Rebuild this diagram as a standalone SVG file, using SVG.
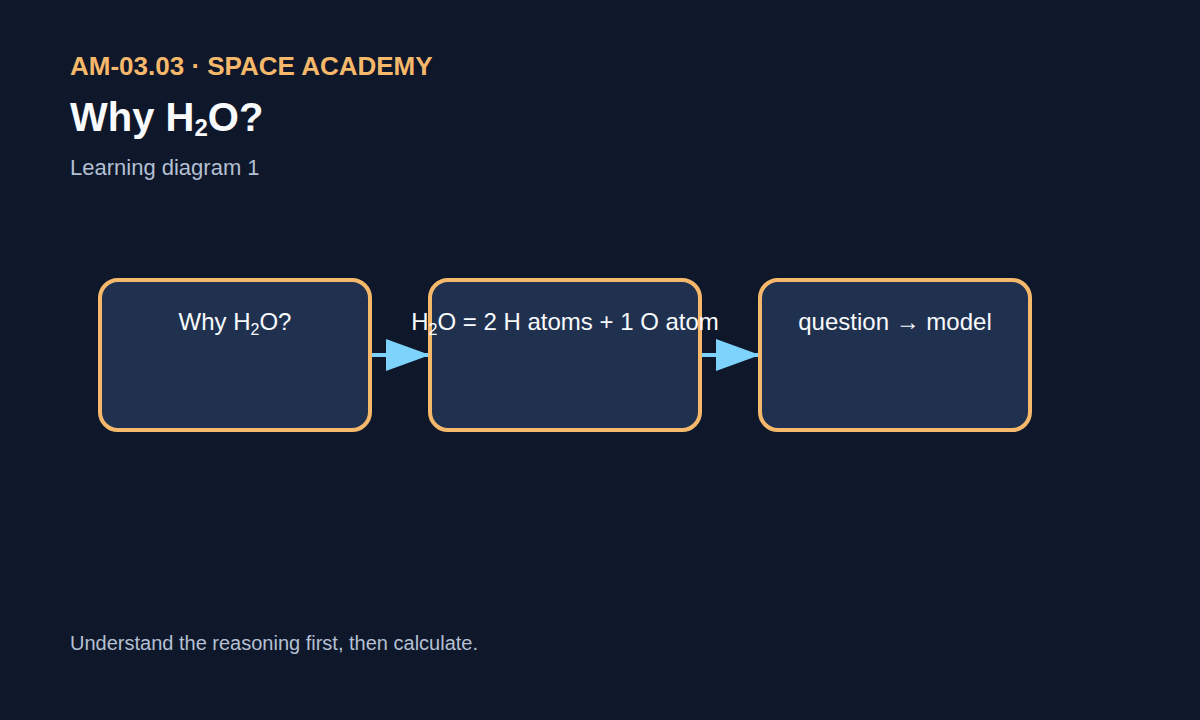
<svg xmlns="http://www.w3.org/2000/svg" width="1200" height="720" viewBox="0 0 1200 720">
<defs>
<style>
.kicker{font-family:"Liberation Sans",Arial,sans-serif;font-weight:700;font-size:26px;fill:#f6b96b}
.title{font-family:"Liberation Sans",Arial,sans-serif;font-weight:700;font-size:40px;fill:#f8fafc}
.sub{font-family:"Liberation Sans",Arial,sans-serif;font-size:22px;fill:#b4c0d3}
.foot{font-family:"Liberation Sans",Arial,sans-serif;font-size:20px;fill:#b4c0d3}
.box{fill:#203150;stroke:#f6b96b;stroke-width:4}
.lbl{font-family:"Liberation Sans",Arial,sans-serif;font-size:24px;fill:#f8fafc;text-anchor:middle}
.edge{stroke:#7dd3fc;stroke-width:4;fill:none}
</style>
<marker id="arr" viewBox="0 0 44 32" refX="44" refY="16" markerWidth="44" markerHeight="32" markerUnits="userSpaceOnUse" orient="auto">
<path d="M0,0 L44,16 L0,32 Z" fill="#7dd3fc"/>
</marker>
</defs>
<rect width="1200" height="720" fill="#0f172a"/>
<text class="kicker" x="70" y="75">AM-03.03 · SPACE ACADEMY</text>
<text class="title" x="70" y="131">Why H<tspan font-size="24" dy="5">2</tspan><tspan dy="-5">O?</tspan></text>
<text class="sub" x="70" y="175">Learning diagram 1</text>
<g id="connectors">
<line class="edge" x1="370" y1="355" x2="430" y2="355" marker-end="url(#arr)"/>
<line class="edge" x1="700" y1="355" x2="760" y2="355" marker-end="url(#arr)"/>
</g>
<g id="n1">
<rect class="box" x="100" y="280" width="270" height="150" rx="18"/>
<text class="lbl" x="235" y="330">Why H<tspan font-size="16" dy="5">2</tspan><tspan dy="-5">O?</tspan></text>
</g>
<g id="n2">
<rect class="box" x="430" y="280" width="270" height="150" rx="18"/>
<text class="lbl" x="565" y="330">H<tspan font-size="16" dy="5">2</tspan><tspan dy="-5">O = 2 H atoms + 1 O atom</tspan></text>
</g>
<g id="n3">
<rect class="box" x="760" y="280" width="270" height="150" rx="18"/>
<text class="lbl" x="895" y="330">question → model</text>
</g>
<text class="foot" x="70" y="650">Understand the reasoning first, then calculate.</text>
</svg>
